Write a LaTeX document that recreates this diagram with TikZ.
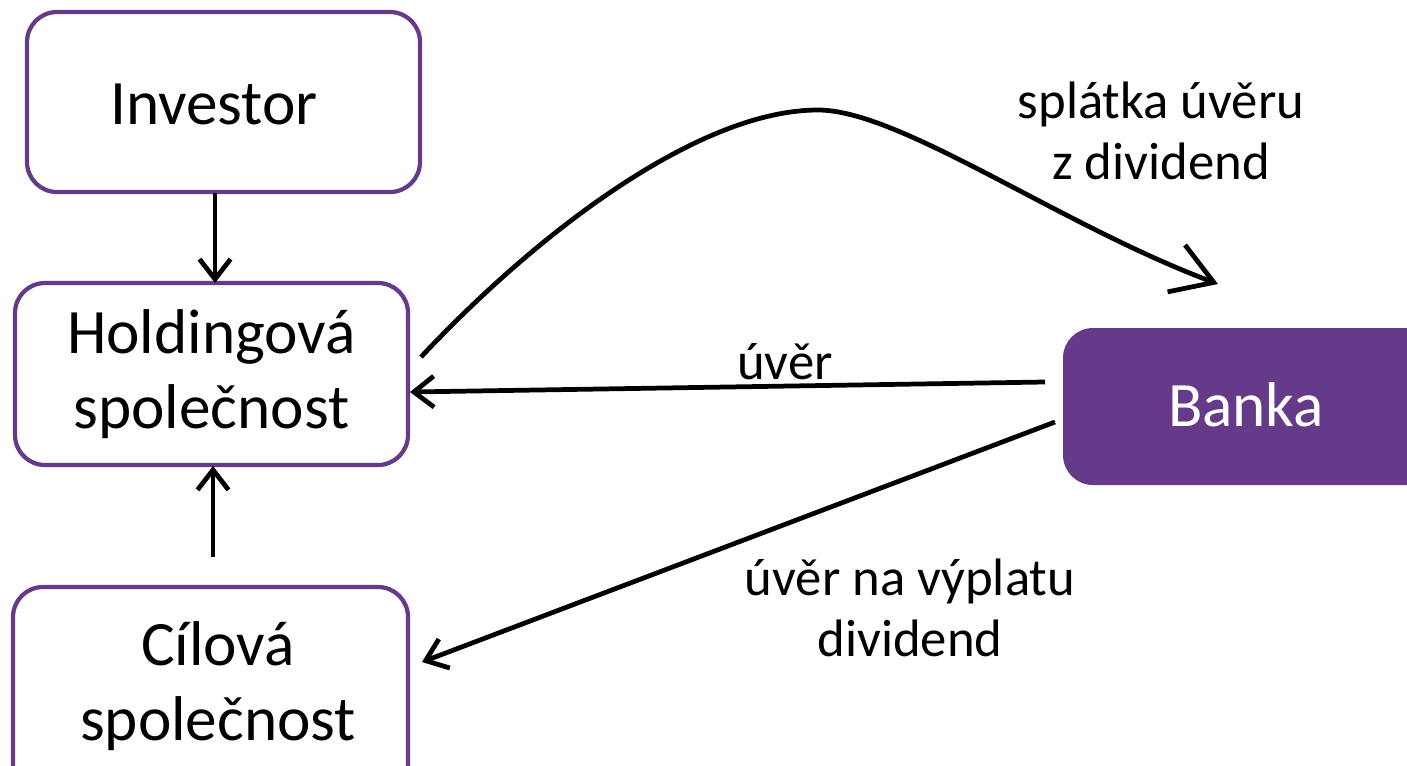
\documentclass[tikz,border=0pt]{standalone}
\usepackage{fontspec}
\setmainfont{Carlito}
\usetikzlibrary{arrows.meta}
\definecolor{vio}{HTML}{653A88}
\begin{document}
\begin{tikzpicture}[x=0.02cm,y=-0.02cm,
  box/.style={draw=vio,line width=2.4pt,rounded corners=0.6cm,fill=white,align=center,
    font=\fontsize{36}{42.5}\selectfont,inner sep=0pt},
  boxtext/.style={align=center,font=\fontsize{36}{42.5}\selectfont,inner sep=0pt},
  bank/.style={fill=vio,rounded corners=0.6cm,inner sep=0pt},
  lbl/.style={align=center,font=\fontsize{30}{35}\selectfont,inner sep=0pt},
  arr/.style={line width=2.7pt,-{Straight Barb[length=0.4cm,width=0.62cm,line width=2.7pt]}},
  bigarr/.style={line width=2.7pt,-{Straight Barb[length=0.8cm,width=1.0cm,line width=2.7pt]}}
]
\useasboundingbox (0,0) rectangle (1407,765);
\node[box,minimum width=393*0.02cm,minimum height=180*0.02cm] (inv) at (223.5,102) {};
\node[boxtext] (invtxt) at (214,104) {Investor};
\node[box,minimum width=393*0.02cm,minimum height=182*0.02cm] (hold) at (211.5,374) {Holdingová\\společnost};
\node[box,minimum width=395*0.02cm,minimum height=210*0.02cm] (cil) at (210.5,692) {};
\node[boxtext] (ciltxt) at (218,686) {Cílová\\společnost};
\node[bank,minimum width=380*0.02cm,minimum height=157*0.02cm] (bank) at (1253,406.5) {};
\node[boxtext,text=white] (banktxt) at (1246,405) {Banka};
\node[lbl] (l1) at (1161,131) {splátka úvěru\\z dividend};
\node[lbl] (l2) at (785,362) {úvěr};
\node[lbl] (l3) at (910,608) {úvěr na výplatu\\dividend};
\coordinate (s1) at (215,193);
\coordinate (e1) at (215,283);
\coordinate (s2) at (213,557);
\coordinate (e2) at (213,466);
\coordinate (s3) at (1045,382);
\coordinate (e3) at (410,392);
\coordinate (s4) at (1055,422);
\coordinate (e4) at (422,662);
\coordinate (s5) at (421,357);
\coordinate (pk) at (818,110);
\coordinate (e5) at (1218,284);
\draw[arr] (s1) -- (e1);
\draw[arr] (s2) -- (e2);
\draw[arr] (s3) -- (e3);
\draw[arr] (s4) -- (e4);
\draw[bigarr] (s5) .. controls (540,230) and (700,110) .. (pk) .. controls (900,110) and (1060,225) .. (e5);
\end{tikzpicture}
\end{document}
